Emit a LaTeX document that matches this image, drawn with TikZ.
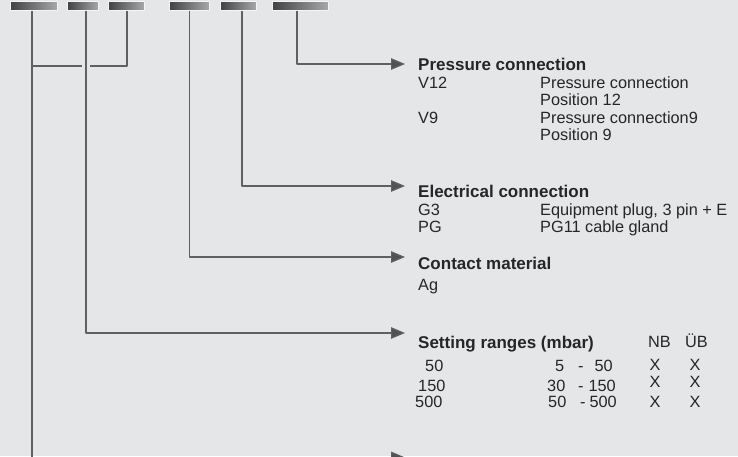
\documentclass[tikz,border=0pt]{standalone}
\usepackage{fontspec}
\setmainfont{Liberation Sans}
\usetikzlibrary{arrows.meta}
\definecolor{bgGray}{HTML}{E5E6E8}
\definecolor{lineGray}{HTML}{5F6062}
\definecolor{tipGray}{HTML}{515254}
\definecolor{txtGray}{HTML}{262626}
\tikzset{
	bar/.style={rectangle,draw=white!92!gray,line width=1pt,left color=black!74,right color=black!34,minimum height=8.5pt,inner sep=0pt},
	lead/.style={draw=lineGray,line width=1.1pt},
	arr/.style={lead,-{Triangle[length=14pt,width=11.5pt,fill=tipGray]}},
	head/.style={anchor=base west,inner sep=0pt,text=txtGray,font=\fontsize{17}{19}\selectfont\bfseries},
	txt/.style={anchor=base west,inner sep=0pt,text=txtGray,font=\fontsize{16.3}{18}\selectfont},
	txtr/.style={txt,anchor=base east},
	txtc/.style={txt,anchor=base},
}
\begin{document}
\begin{tikzpicture}[x=1pt,y=-1pt,line join=round]
	\useasboundingbox (0,0) rectangle (738,456);
	\fill[bgGray] (0,0) rectangle (738,456);
	\clip (0,0) rectangle (738,456);
	\path 
	(405,64)coordinate(tipP)
	(405,186)coordinate(tipE)
	(405,257)coordinate(tipC)
	(405,333)coordinate(tipS)
	(405,457.4)coordinate(tipT)
	(90,66)coordinate(gapR)
	(82,66)coordinate(gapL)
	(32,66)coordinate(join)
	;
	% order code bars
	\node[bar,minimum width=47pt] (b1) at (34,6) {};
	\node[bar,minimum width=31pt] (b2) at (83,6) {};
	\node[bar,minimum width=36pt] (b3) at (126.5,6) {};
	\node[bar,minimum width=40pt] (b4) at (189.5,6) {};
	\node[bar,minimum width=36pt] (b5) at (238.5,6) {};
	\node[bar,minimum width=56pt] (b6) at (300.5,6) {};
	% leads
	\draw[arr] ([xshift=-3.5pt]b6.south) |- (tipP);
	\draw[arr] ([xshift=3.5pt]b5.south) |- (tipE);
	\draw[arr] (b4.south) |- (tipC);
	\draw[arr] ([xshift=3pt]b2.south) |- (tipS);
	\draw[arr] ([xshift=-2pt]b1.south) |- (tipT);
	\draw[lead] ([xshift=.5pt]b3.south) |- (gapR);
	\draw[lead] (gapL) -- (join);
	% pressure connection
	\node[head] (pc) at (418,70) {Pressure connection};
	\node[txt] (v12) at (418,88) {V12};
	\node[txt] (v12a) at (540,88) {Pressure connection};
	\node[txt] (v12b) at (540,105) {Position 12};
	\node[txt] (v9) at (418,123) {V9};
	\node[txt] (v9a) at (540,123) {Pressure connection9};
	\node[txt] (v9b) at (540,140) {Position 9};
	% electrical connection
	\node[head] (ec) at (418,197) {Electrical connection};
	\node[txt] (g3) at (418,215) {G3};
	\node[txt] (g3a) at (540,215) {Equipment plug, 3 pin + E};
	\node[txt] (pg) at (418,232) {PG};
	\node[txt] (pga) at (540,232) {PG11 cable gland};
	% contact material
	\node[head] (cm) at (418,269) {Contact material};
	\node[txt] (ag) at (418,290) {Ag};
	% setting ranges
	\node[head] (sr) at (418,348) {Setting ranges (mbar)};
	\node[txt] (nb) at (648,347) {NB};
	\node[txt] (ub) at (685,347) {ÜB};
	\node[txt] (r1) at (425,371) {50};
	\node[txt] (r2) at (418,391) {150};
	\node[txt] (r3) at (415,407) {500};
	\node[txt] (r1lo) at (555,371.5) {5};
	\node[txt] (r2lo) at (547,391) {30};
	\node[txt] (r3lo) at (548,407) {50};
	\foreach \n/\x/\y in {1/578/371.5,2/578/391,3/580/407}
	\node[txt] (r\n d) at (\x,\y) {-};
	\node[txtr] (r1hi) at (613,371.5) {50};
	\node[txtr] (r2hi) at (616,391) {150};
	\node[txtr] (r3hi) at (617,407) {500};
	\foreach \n/\y in {1/370.5,2/387,3/407}
	{\node[txtc] (nb\n) at (655,\y) {X};
	\node[txtc] (ub\n) at (695,\y) {X};}
\end{tikzpicture}
\end{document}
